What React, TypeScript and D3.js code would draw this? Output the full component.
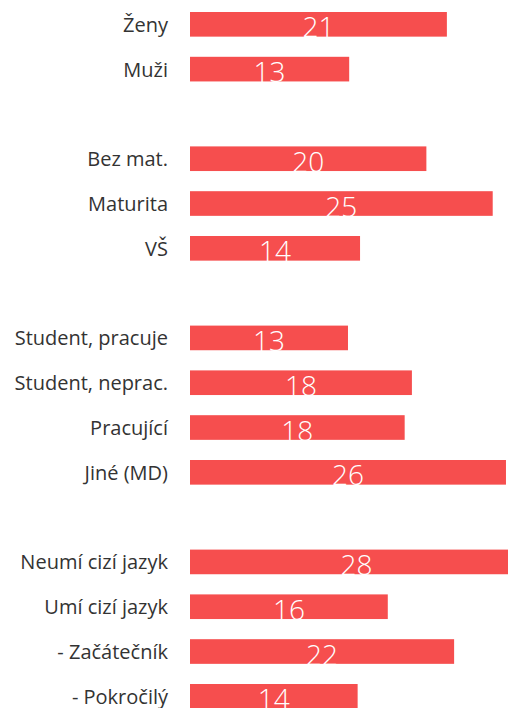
import React from "react";
import * as d3 from "d3";

const categories = [
  "Ženy", "Muži",
  "Bez mat.", "Maturita", "VŠ",
  "Student, pracuje", "Student, neprac.", "Pracující", "Jiné (MD)",
  "Neumí cizí jazyk", "Umí cizí jazyk", "- Začátečník", "- Pokročilý",
];
const values = [21.3, 13.2, 19.6, 25.1, 14.1, 13.1, 18.4, 17.8, 26.2, 27.6, 16.4, 21.9, 13.9];
const groupSizes = [2, 3, 4, 4];

const W = 508;
const H = 708;
const BAR_COLOR = "#F64E4E";
const LABEL_COLOR = "#333333";

export default function App() {
  // build slot keys: each group followed by an empty gap slot
  const slots: { key: string; idx: number | null }[] = [];
  let i = 0;
  groupSizes.forEach((n, g) => {
    for (let k = 0; k < n; k++) {
      slots.push({ key: "c" + i, idx: i });
      i++;
    }
    if (g < groupSizes.length - 1) slots.push({ key: "gap" + g, idx: null });
  });

  const y = d3
    .scaleBand<string>()
    .domain(slots.map((s) => s.key))
    .range([1.92, 1.92 + 44.8 * slots.length])
    .paddingInner(0.45)
    .paddingOuter(0.225);

  const x = d3.scaleLinear().domain([0, 30]).range([190, 190 + 30 * 12.06]);

  const rows = slots.filter((s) => s.idx !== null) as { key: string; idx: number }[];

  return (
    <svg
      width={W}
      height={H}
      style={{ position: "absolute", left: 0, top: 0, overflow: "hidden" }}
    >
      <rect width={W} height={H} fill="#ffffff" />
      {rows.map((r) => {
        const y0 = y(r.key)!;
        const bw = y.bandwidth();
        const v = values[r.idx];
        return (
          <g key={r.key}>
            <text
              x={168}
              y={y0 + bw / 2 + 7.5}
              textAnchor="end"
              fontFamily="'Open Sans', sans-serif"
              fontSize={20}
              fill={LABEL_COLOR}
            >
              {categories[r.idx]}
            </text>
            <rect x={x(0)} y={y0} width={x(v) - x(0)} height={bw} fill={BAR_COLOR} />
            <text
              x={(x(0) + x(v)) / 2}
              y={y0 + bw + 0.7}
              textAnchor="middle"
              fontFamily="'Open Sans', sans-serif"
              fontWeight={300}
              fontSize={28}
              fill="#ffffff"
            >
              {d3.format(".0f")(v)}
            </text>
          </g>
        );
      })}
    </svg>
  );
}
